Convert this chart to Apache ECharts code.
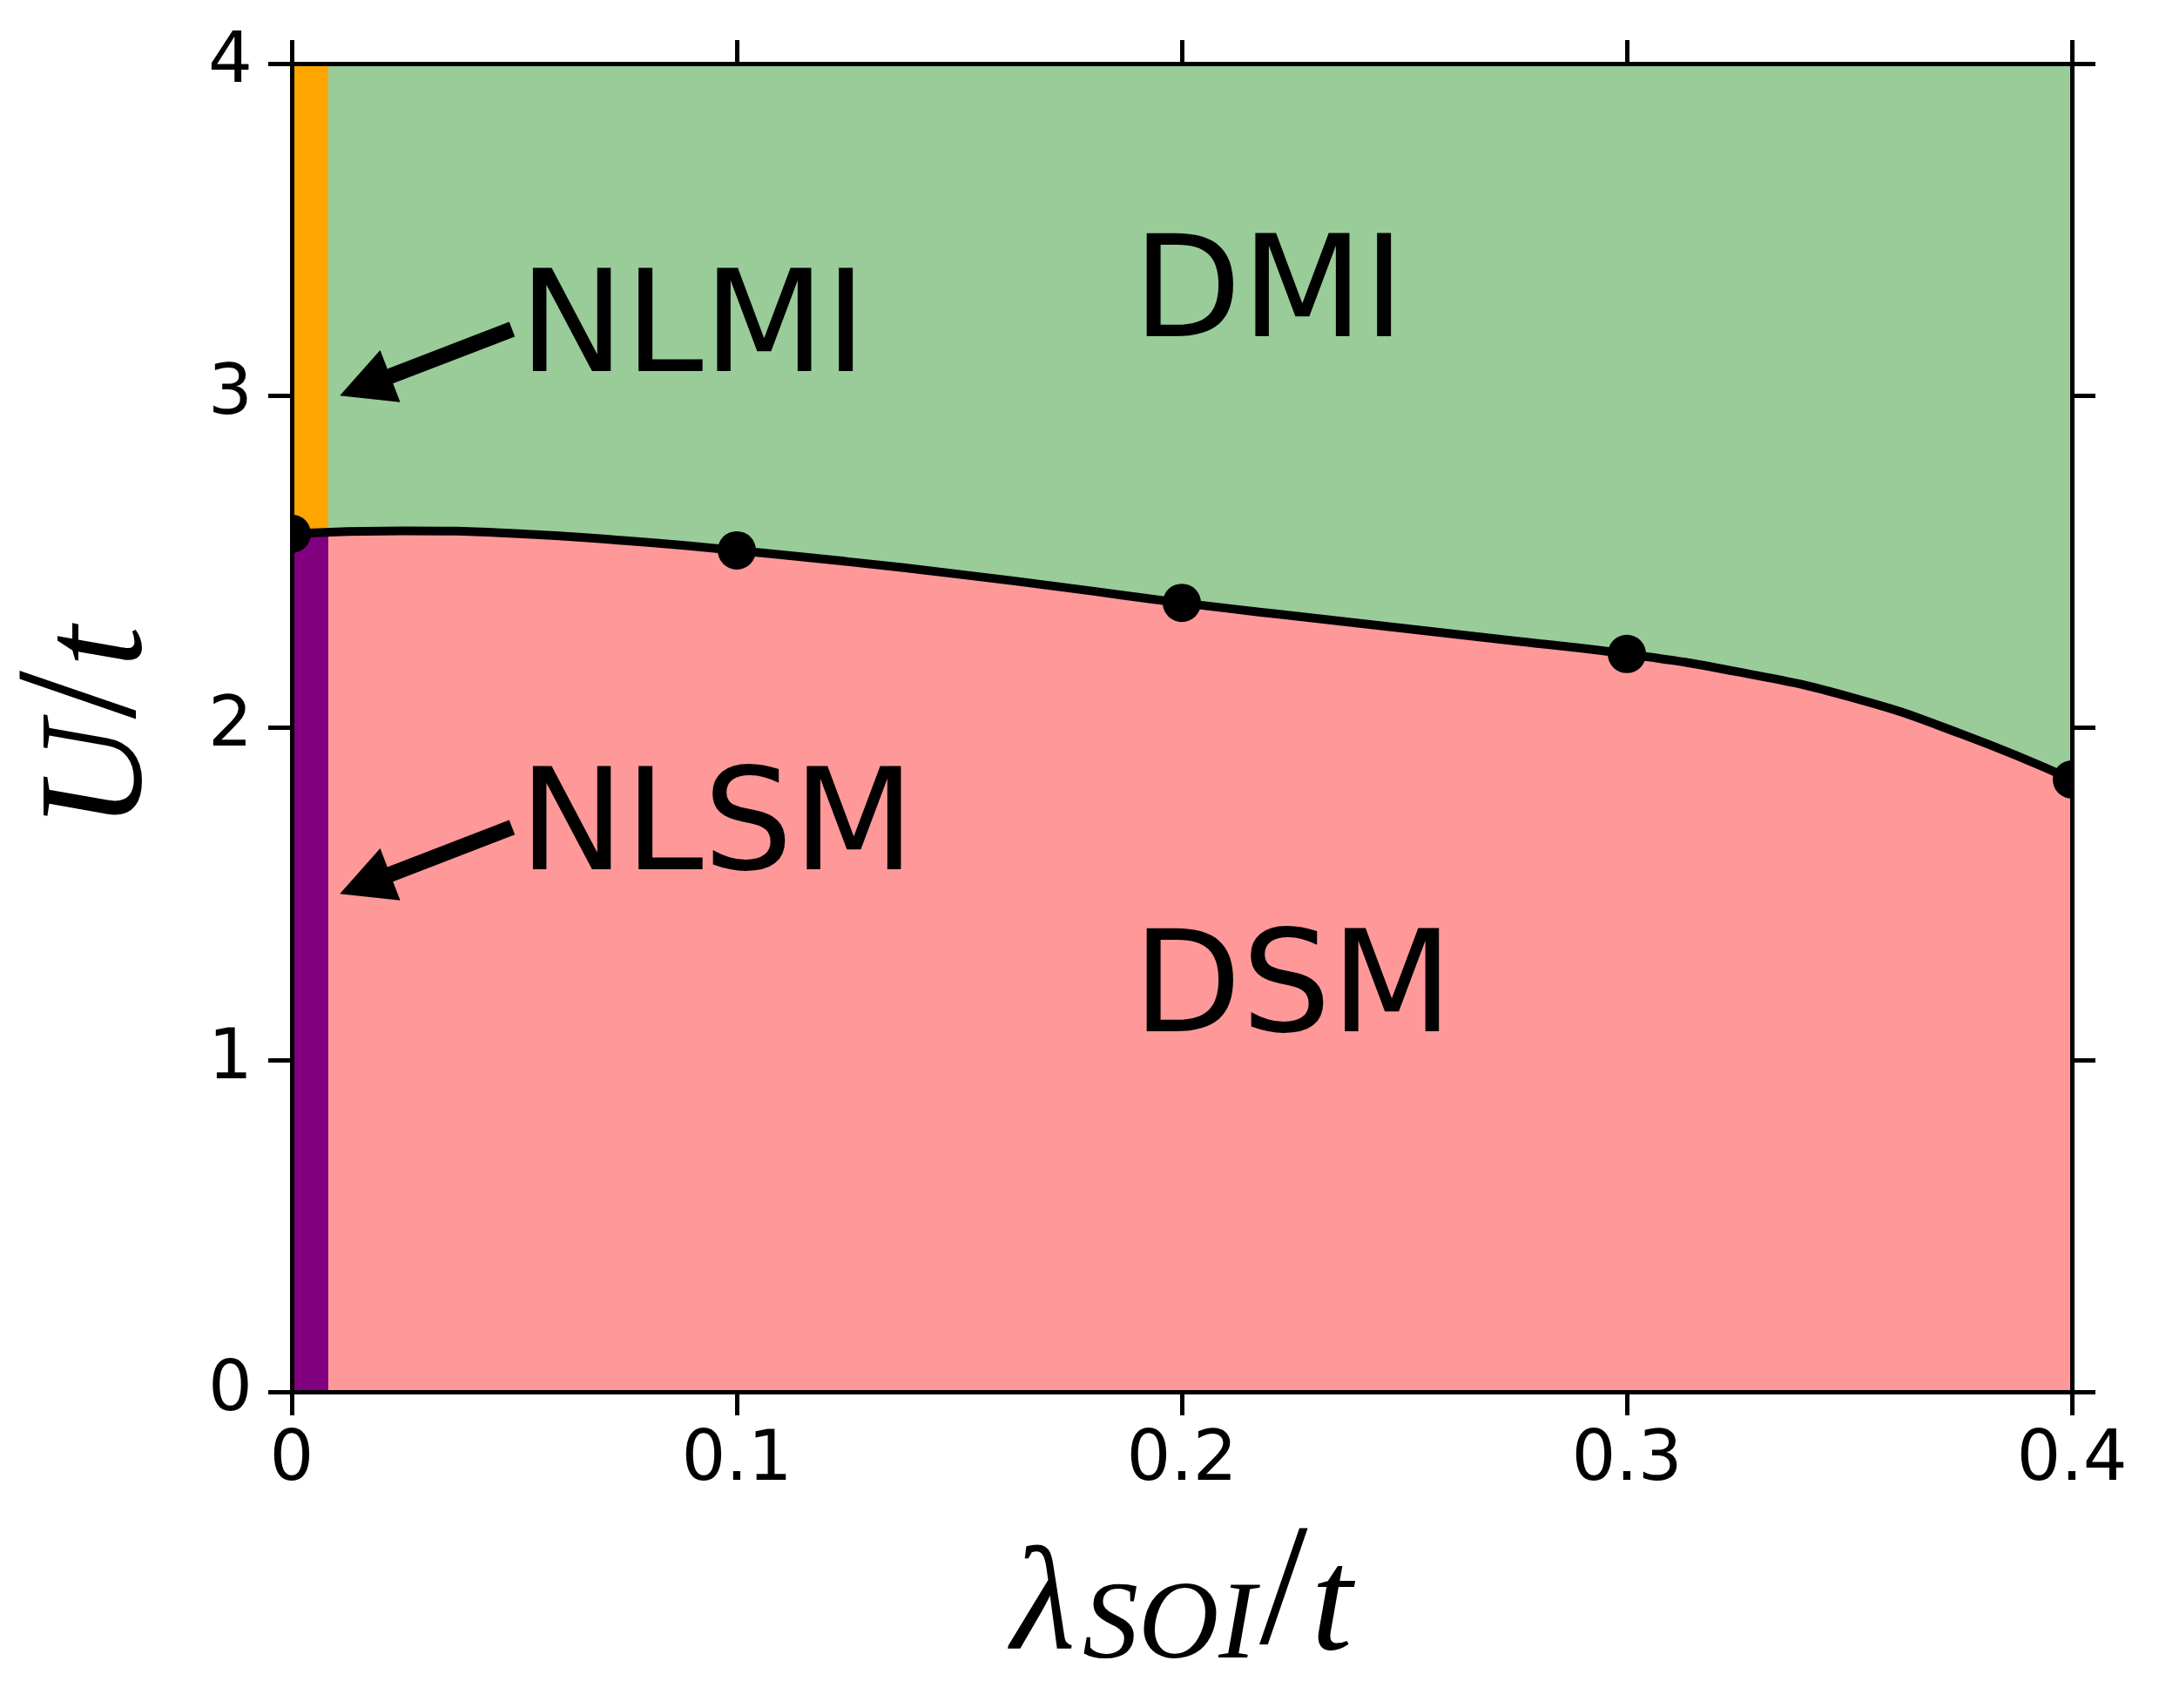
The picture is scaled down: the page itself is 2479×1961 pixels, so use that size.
<!DOCTYPE html>
<html>
<head>
<meta charset="utf-8">
<script src="https://cdn.jsdelivr.net/npm/echarts@6/dist/echarts.min.js"></script>
<style>
  html, body { margin: 0; padding: 0; background: #fff; }
  #chart { width: 2479px; height: 1961px; }
</style>
</head>
<body>
<div id="chart"></div>
<script>
// computed transition points (markers)
const transitionLambda = [0, 0.1, 0.2, 0.3, 0.4];
const transitionU = [2.584, 2.534, 2.376, 2.222, 1.844];

// phase boundary curve
const boundaryLambda = [0, 0.025, 0.05, 0.075, 0.1, 0.125, 0.15, 0.175, 0.2,
  0.225, 0.25, 0.275, 0.3, 0.325, 0.35, 0.375, 0.4];
const boundaryU = [2.584, 2.593, 2.585, 2.563, 2.534, 2.5, 2.462, 2.42, 2.376,
  2.337, 2.299, 2.261, 2.222, 2.168, 2.093, 1.982, 1.844];

// nodal-line strip at lambda = 0
const stripLambda = [0, 0.0082];
const stripSplitU = 2.59;
const uMin = 0;
const uMax = 4;

const phaseNames = ["DMI", "DSM", "NLMI", "NLSM"];
const phaseLambda = [0.189, 0.189, 0.0511, 0.0511];
const phaseU = [3.289, 1.195, 3.184, 1.684];

const arrowFrom = [[0.0495, 3.2], [0.0495, 1.7]];
const arrowTo = [[0.0108, 3.0], [0.0108, 1.5]];

const chartEl = document.getElementById("chart");
const chart = echarts.init(chartEl);

const tickFont = { fontFamily: "DejaVu Sans", fontSize: 80, color: "#000" };
const lineBlack = { color: "#000", width: 5 };
const mathFont = { fontFamily: "Liberation Serif", fontStyle: "italic", color: "#000" };
const slashFont = { fontFamily: "Liberation Serif", fontSize: 200, lineHeight: 185, verticalAlign: "bottom", color: "#000", padding: [0, 4, 0, 4] };

function makeAxis(extra) {
  return Object.assign({
    type: "value",
    z: 10,
    axisLine: { show: true, onZero: false, lineStyle: lineBlack },
    axisTick: { show: true, inside: false, length: 27, lineStyle: lineBlack },
    splitLine: { show: false },
  }, extra);
}

const boundaryData = boundaryLambda.map((x, i) => [x, boundaryU[i]]);
const stripColors = ["#800080", "#FFA500"];

const chartOption = {
  animation: false,
  backgroundColor: "#fff",
  grid: {
    left: 335,
    top: 73,
    right: 100,
    bottom: 363,
    containLabel: false,
    outerBoundsMode: "none",
    show: true,
    backgroundColor: "#99CC99",
    borderWidth: 0,
  },
  xAxis: [
    makeAxis({
      position: "bottom",
      min: 0,
      max: 0.4,
      interval: 0.1,
      axisLabel: Object.assign({ margin: 40 }, tickFont),
      name: "{m|λ}{s|SOI}{sl|/}{t|t}",
      nameLocation: "middle",
      nameGap: 150,
      nameTextStyle: {
        rich: {
          m: Object.assign({ fontSize: 170, lineHeight: 170, verticalAlign: "bottom", padding: [0, 8, 0, 0] }, mathFont),
          s: Object.assign({ fontSize: 128, lineHeight: 96, verticalAlign: "bottom" }, mathFont),
          sl: slashFont,
          t: Object.assign({ fontSize: 170, lineHeight: 170, verticalAlign: "bottom" }, mathFont),
        },
      },
    }),
    makeAxis({
      position: "top",
      min: 0,
      max: 0.4,
      interval: 0.1,
      axisLabel: { show: false },
    }),
  ],
  yAxis: [
    makeAxis({
      position: "left",
      min: uMin,
      max: uMax,
      interval: 1,
      axisLabel: Object.assign({ margin: 45 }, tickFont),
      name: "{m|U}{sl|/}{m|t}",
      nameLocation: "middle",
      nameGap: 134,
      nameTextStyle: {
        rich: {
          m: Object.assign({ fontSize: 170, lineHeight: 170, verticalAlign: "bottom" }, mathFont),
          sl: slashFont,
        },
      },
    }),
    makeAxis({
      position: "right",
      min: uMin,
      max: uMax,
      interval: 1,
      axisLabel: { show: false },
    }),
  ],
  series: [
    {
      name: "DSM region",
      type: "line",
      z: 2,
      data: boundaryData,
      smooth: true,
      showSymbol: false,
      lineStyle: { width: 0 },
      areaStyle: { color: "#FF9999", opacity: 1 },
    },
    {
      name: "nodal strip",
      type: "custom",
      z: 3,
      clip: true,
      data: [
        [stripLambda[0], stripLambda[1], uMin, stripSplitU],
        [stripLambda[0], stripLambda[1], stripSplitU, uMax],
      ],
      encode: { x: [0, 1], y: [2, 3] },
      renderItem: function (params, api) {
        const p0 = api.coord([api.value(0), api.value(3)]);
        const p1 = api.coord([api.value(1), api.value(2)]);
        return {
          type: "rect",
          shape: { x: p0[0], y: p0[1], width: p1[0] - p0[0], height: p1[1] - p0[1] },
          style: { fill: stripColors[params.dataIndex] },
        };
      },
    },
    {
      name: "boundary",
      type: "line",
      z: 4,
      data: boundaryData,
      smooth: true,
      showSymbol: false,
      lineStyle: { color: "#000", width: 10 },
    },
    {
      name: "points",
      type: "custom",
      z: 5,
      clip: true,
      data: transitionLambda.map((x, i) => [x, transitionU[i]]),
      encode: { x: 0, y: 1 },
      renderItem: function (params, api) {
        const p = api.coord([api.value(0), api.value(1)]);
        return {
          type: "circle",
          shape: { cx: p[0], cy: p[1], r: 22 },
          style: { fill: "#000" },
        };
      },
    },
    {
      name: "arrows",
      type: "custom",
      z: 6,
      data: arrowFrom.map((a, i) => [a[0], a[1], arrowTo[i][0], arrowTo[i][1]]),
      encode: { x: [0, 2], y: [1, 3] },
      renderItem: function (params, api) {
        const a = api.coord([api.value(0), api.value(1)]);
        const b = api.coord([api.value(2), api.value(3)]);
        const dx = b[0] - a[0];
        const dy = b[1] - a[1];
        const len = Math.sqrt(dx * dx + dy * dy);
        const ux = dx / len, uy = dy / len;
        const nx = -uy, ny = ux;
        const headLen = 62, headW = 32, shaftW = 9;
        const bx = b[0] - ux * headLen, by = b[1] - uy * headLen;
        return {
          type: "polygon",
          shape: {
            points: [
              [a[0] + nx * shaftW, a[1] + ny * shaftW],
              [bx + nx * shaftW, by + ny * shaftW],
              [bx + nx * headW, by + ny * headW],
              [b[0], b[1]],
              [bx - nx * headW, by - ny * headW],
              [bx - nx * shaftW, by - ny * shaftW],
              [a[0] - nx * shaftW, a[1] - ny * shaftW],
            ],
          },
          style: { fill: "#000" },
        };
      },
    },
    {
      name: "phases",
      type: "scatter",
      z: 7,
      symbolSize: 0,
      itemStyle: { opacity: 1 },
      data: phaseNames.map((n, i) => ({ name: n, value: [phaseLambda[i], phaseU[i]] })),
      label: {
        show: true,
        position: [0, 0],
        align: "left",
        verticalAlign: "middle",
        formatter: function (params) {
          return params.name;
        },
        fontFamily: "DejaVu Sans",
        fontSize: 162,
        color: "#000",
        opacity: 1,
      },
      emphasis: { disabled: true },
    },
  ],
};

chart.setOption(chartOption);

window.addEventListener("resize", () => {
  chart.resize();
});
</script>
</body>
</html>
